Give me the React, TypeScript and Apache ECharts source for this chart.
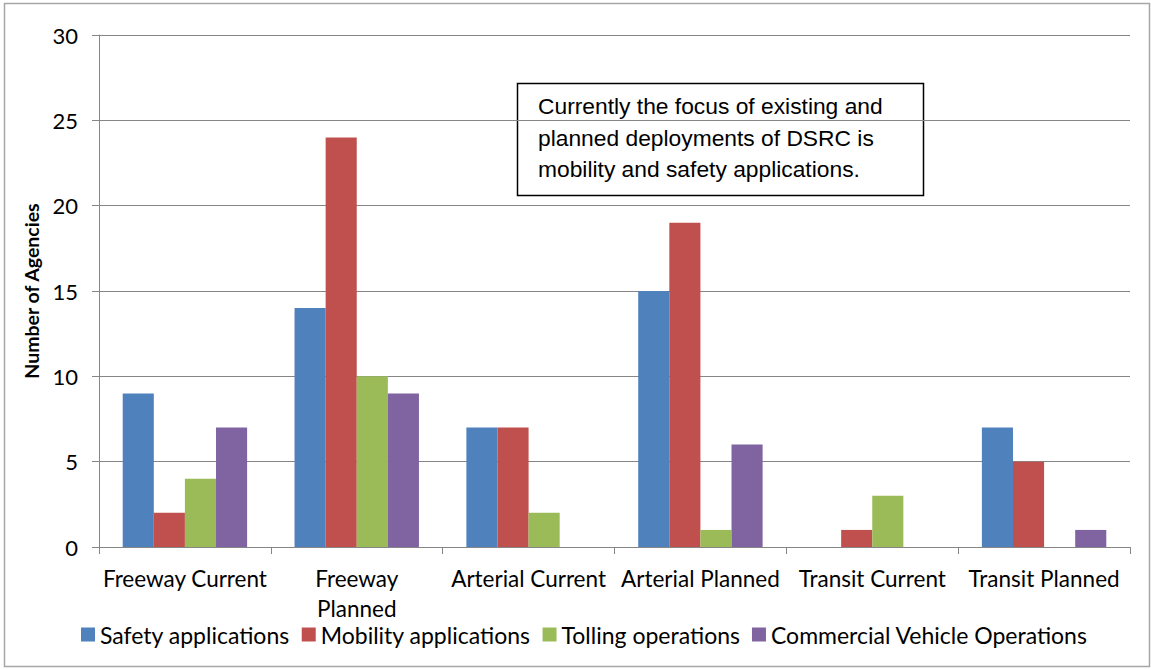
import React, { useEffect, useRef } from "react";
import * as echarts from "echarts";

const categories = [
  "Freeway Current",
  "Freeway Planned",
  "Arterial Current",
  "Arterial Planned",
  "Transit Current",
  "Transit Planned",
];
const seriesNames = [
  "Safety applications",
  "Mobility applications",
  "Tolling operations",
  "Commercial Vehicle Operations",
];
const safety = [9, 14, 7, 15, 0, 7];
const mobility = [2, 24, 7, 19, 1, 5];
const tolling = [4, 10, 2, 1, 3, 0];
const commercial = [7, 9, 0, 6, 0, 1];
const colors = ["#4F81BD", "#C0504D", "#9BBB59", "#8064A2"];
const yTicks = { min: 0, max: 30, interval: 5 };
const noteLines = [
  "Currently the focus of existing and",
  "planned deployments of DSRC is",
  "mobility and safety applications.",
];

const FONT = "Lato, 'Open Sans', sans-serif";

export default function App() {
  const ref = useRef<HTMLDivElement>(null);
  useEffect(() => {
    if (!ref.current) return;
    const chart = echarts.init(ref.current, null, { renderer: "svg" });
    const values = [safety, mobility, tolling, commercial];
    chart.setOption({
      animation: false,
      backgroundColor: "#ffffff",
      textStyle: { fontFamily: FONT },
      grid: { left: 99, right: 21, top: 35, bottom: 122, containLabel: false },
      legend: {
        top: 618,
        left: 76,
        itemWidth: 14,
        itemHeight: 14,
        itemGap: 12,
        icon: "rect",
        textStyle: { fontFamily: FONT, fontSize: 23, color: "#000" },
        data: seriesNames,
      },
      xAxis: {
        type: "category",
        data: categories,
        axisLine: { lineStyle: { color: "#868686", width: 1 } },
        axisTick: { show: true, length: 7, alignWithLabel: false, lineStyle: { color: "#868686" } },
        axisLabel: {
          fontFamily: FONT,
          fontSize: 22.5,
          color: "#000",
          margin: 17,
          lineHeight: 29.5,
          interval: 0,
          formatter: (v: string) => (v === "Freeway Planned" ? "Freeway\nPlanned" : v),
        },
      },
      yAxis: {
        type: "value",
        min: yTicks.min,
        max: yTicks.max,
        interval: yTicks.interval,
        name: "Number of Agencies",
        nameLocation: "middle",
        nameGap: 47,
        nameTextStyle: { fontFamily: FONT, fontSize: 19.5, fontWeight: "bold", color: "#000" },
        axisLine: { show: true, lineStyle: { color: "#868686", width: 1 } },
        axisTick: { show: true, length: 7, lineStyle: { color: "#868686" } },
        splitLine: { lineStyle: { color: "#868686", width: 1 } },
        axisLabel: { fontFamily: FONT, fontSize: 22, color: "#000", margin: 21 },
      },
      series: seriesNames.map((name, i) => ({
        name,
        type: "bar",
        data: values[i],
        barGap: "0%",
        barCategoryGap: "27.6%",
        itemStyle: { color: colors[i] },
      })),
      graphic: [
        {
          type: "rect",
          shape: { x: 4.5, y: 3.5, width: 1145, height: 663 },
          style: { fill: "none", stroke: "#a6a6a6", lineWidth: 1.5 },
          silent: true,
          z: 100,
        },
        {
          type: "group",
          x: 517,
          y: 83,
          z: 100,
          children: [
            {
              type: "rect",
              shape: { x: 0.5, y: 0.5, width: 406, height: 112 },
              style: { fill: "#ffffff", stroke: "#000000", lineWidth: 1.5 },
            },
            ...noteLines.map((t, i) => ({
              type: "text",
              x: 21,
              y: 23 + i * 31.5,
              style: {
                text: t,
                fontFamily: "'Liberation Sans', Arial, sans-serif",
                fontSize: 22.8,
                fill: "#000",
                verticalAlign: "middle",
              },
            })),
          ],
        },
      ],
    });
    return () => chart.dispose();
  }, []);
  return (
    <div
      ref={ref}
      style={{ position: "fixed", left: 0, top: 0, width: 1151, height: 669 }}
    />
  );
}
